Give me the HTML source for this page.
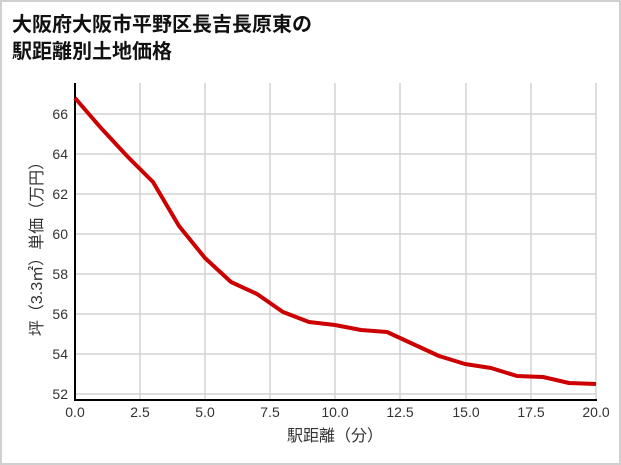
<!DOCTYPE html>
<html><head><meta charset="utf-8"><style>
body{margin:0;background:#fff}
svg{display:block}
text{font-family:"Liberation Sans","Noto Sans CJK JP",sans-serif}
</style></head><body>
<svg width="621" height="465" viewBox="0 0 621 465">
<rect x="1" y="1" width="619" height="463" fill="#fff" stroke="#d0d0d0" stroke-width="2"/>
<text x="12" y="31" font-size="20" font-weight="bold" fill="#111">大阪府大阪市平野区長吉長原東の</text>
<text x="12" y="58" font-size="20" font-weight="bold" fill="#111">駅距離別土地価格</text>
<g stroke="#d3d3d3" stroke-width="1.5">
<line x1="140" y1="83" x2="140" y2="400"/><line x1="205" y1="83" x2="205" y2="400"/><line x1="270" y1="83" x2="270" y2="400"/><line x1="335" y1="83" x2="335" y2="400"/><line x1="400" y1="83" x2="400" y2="400"/><line x1="466" y1="83" x2="466" y2="400"/><line x1="531" y1="83" x2="531" y2="400"/><line x1="596" y1="83" x2="596" y2="400"/>
<line x1="75" y1="114" x2="596" y2="114"/><line x1="75" y1="154" x2="596" y2="154"/><line x1="75" y1="194" x2="596" y2="194"/><line x1="75" y1="234" x2="596" y2="234"/><line x1="75" y1="274" x2="596" y2="274"/><line x1="75" y1="314" x2="596" y2="314"/><line x1="75" y1="354" x2="596" y2="354"/><line x1="75" y1="394" x2="596" y2="394"/>
</g>
<line x1="75" y1="83" x2="75" y2="401" stroke="#000" stroke-width="2"/>
<line x1="74" y1="400" x2="597" y2="400" stroke="#000" stroke-width="2"/>
<polyline fill="none" stroke="#cc0000" stroke-width="4" stroke-linejoin="round" points="75,98 101,128 127,156 153,182 179,226 205,258 231,282 257,294 283,312 309,322 335,325 361,330 387,332 413,344 439,356 465,364 491,368 517,376 543,377 569,383 596,384"/>
<g font-size="14" fill="#333" text-anchor="end">
<text x="68" y="119">66</text><text x="68" y="159">64</text><text x="68" y="199">62</text><text x="68" y="239">60</text><text x="68" y="279">58</text><text x="68" y="319">56</text><text x="68" y="359">54</text><text x="68" y="399">52</text>
</g>
<g font-size="14" fill="#333" text-anchor="middle">
<text x="75" y="417">0.0</text><text x="140" y="417">2.5</text><text x="205" y="417">5.0</text><text x="270" y="417">7.5</text><text x="335" y="417">10.0</text><text x="400" y="417">12.5</text><text x="466" y="417">15.0</text><text x="531" y="417">17.5</text><text x="596" y="417">20.0</text>
</g>
<text x="335" y="441" font-size="16" fill="#333" text-anchor="middle">駅距離（分）</text>
<text transform="translate(42,245) rotate(-90)" font-size="16" fill="#333" text-anchor="middle">坪（3.3㎡）単価（万円）</text>
</svg>
</body></html>
